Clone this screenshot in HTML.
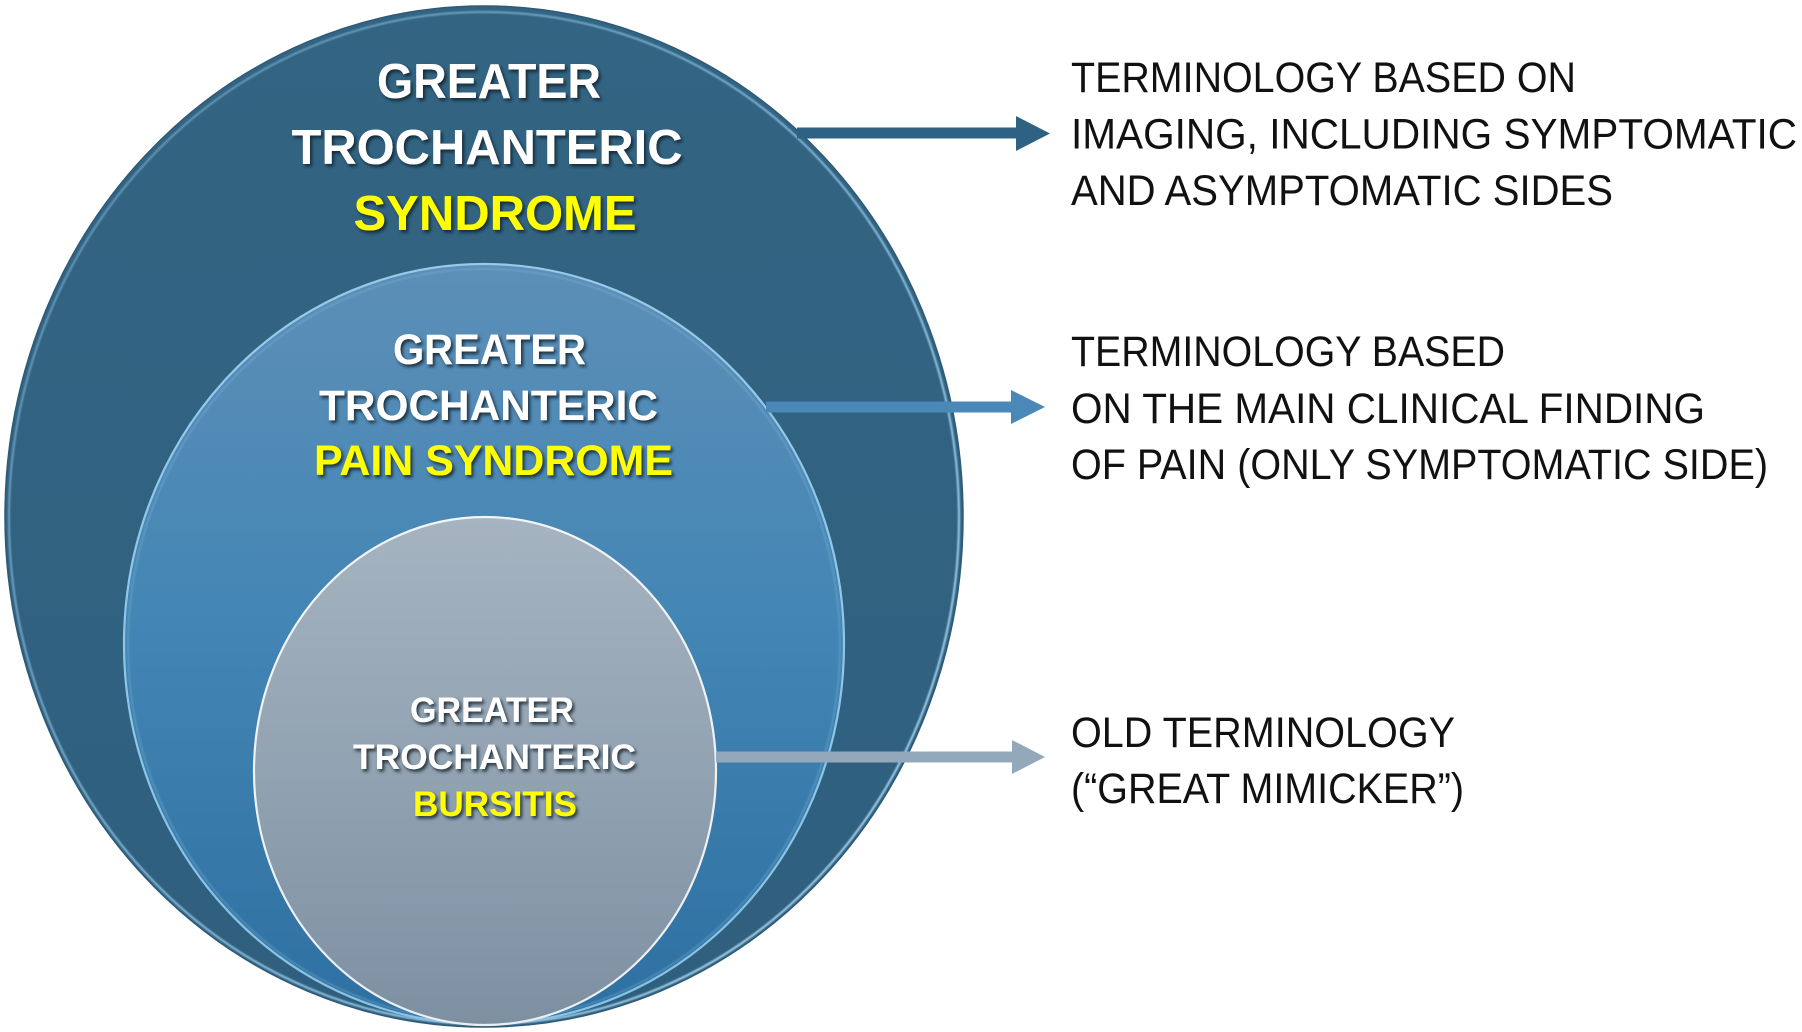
<!DOCTYPE html>
<html>
<head>
<meta charset="utf-8">
<style>
html,body{margin:0;padding:0;background:#fff;}
svg{display:block;}
.b{font-family:"Liberation Sans",Arial,sans-serif;font-weight:bold;}
.r{font-family:"Liberation Sans",Arial,sans-serif;font-weight:normal;fill:#111;}
</style>
</head>
<body>
<svg width="1802" height="1032" viewBox="0 0 1802 1032" xmlns="http://www.w3.org/2000/svg">
<defs>
  <linearGradient id="gOuter" x1="0" y1="0" x2="0" y2="1">
    <stop offset="0" stop-color="#336583"/>
    <stop offset="1" stop-color="#2f5f7e"/>
  </linearGradient>
  <linearGradient id="gMid" x1="0" y1="0" x2="0" y2="1">
    <stop offset="0" stop-color="#5d8fb7"/>
    <stop offset="0.45" stop-color="#4486b5"/>
    <stop offset="1" stop-color="#2d70a1"/>
  </linearGradient>
  <linearGradient id="gIn" x1="0" y1="0" x2="0" y2="1">
    <stop offset="0" stop-color="#a6b4c1"/>
    <stop offset="1" stop-color="#7d90a2"/>
  </linearGradient>
  <linearGradient id="gRimO" x1="0" y1="0" x2="1" y2="1">
    <stop offset="0" stop-color="#7fb6dc" stop-opacity="0.45"/>
    <stop offset="0.5" stop-color="#9fd4f4" stop-opacity="0.7"/>
    <stop offset="1" stop-color="#bfe6ff" stop-opacity="0.9"/>
  </linearGradient>
  <filter id="sh" x="-10%" y="-30%" width="120%" height="160%">
    <feDropShadow dx="2" dy="2.5" stdDeviation="1.6" flood-color="#0d1c2a" flood-opacity="0.85"/>
  </filter>
  <filter id="soft" x="-5%" y="-5%" width="110%" height="110%">
    <feGaussianBlur stdDeviation="0.8"/>
  </filter>
</defs>

<!-- Outer ellipse -->
<ellipse cx="484" cy="516.5" rx="479" ry="510.5" fill="url(#gOuter)"/>
<ellipse cx="484" cy="516.5" rx="479" ry="510.5" fill="none" stroke="#2d5a78" stroke-width="1.5"/>
<ellipse cx="484" cy="518" rx="475" ry="506" fill="none" stroke="url(#gRimO)" stroke-width="2.2" filter="url(#soft)"/>

<!-- Middle ellipse -->
<ellipse cx="484" cy="644" rx="361" ry="381" fill="url(#gMid)"/>
<ellipse cx="484" cy="644" rx="360" ry="380" fill="none" stroke="#a9defa" stroke-opacity="0.75" stroke-width="2.2"/>
<ellipse cx="484" cy="645" rx="356" ry="376" fill="none" stroke="#7fb5da" stroke-opacity="0.35" stroke-width="2" filter="url(#soft)"/>

<!-- Inner ellipse -->
<ellipse cx="485" cy="771" rx="232" ry="255" fill="url(#gIn)"/>
<ellipse cx="485" cy="771" rx="231" ry="254" fill="none" stroke="#ffffff" stroke-opacity="0.85" stroke-width="2.2"/>

<!-- Arrows -->
<rect x="797" y="127.5" width="220" height="11" fill="#2f6282"/>
<polygon points="1016,116 1050,133.5 1016,151" fill="#2f6282"/>

<rect x="766" y="401.5" width="246" height="11" fill="#4a88b8"/>
<polygon points="1011,390 1045,407 1011,424" fill="#4a88b8"/>

<rect x="716" y="751.5" width="297" height="11" fill="#93a8ba"/>
<polygon points="1012,740 1045,757 1012,774" fill="#93a8ba"/>

<!-- Outer text -->
<g class="b" filter="url(#sh)" text-anchor="middle">
  <text x="489" y="98" font-size="49" fill="#ffffff" textLength="224" lengthAdjust="spacingAndGlyphs">GREATER</text>
  <text x="487" y="164" font-size="49" fill="#ffffff" textLength="391" lengthAdjust="spacingAndGlyphs">TROCHANTERIC</text>
  <text x="495" y="230" font-size="49" fill="#ffff00" textLength="283" lengthAdjust="spacingAndGlyphs">SYNDROME</text>
</g>

<!-- Middle text -->
<g class="b" filter="url(#sh)" text-anchor="middle">
  <text x="489.5" y="364" font-size="43" fill="#ffffff" textLength="193" lengthAdjust="spacingAndGlyphs">GREATER</text>
  <text x="488.5" y="420" font-size="43" fill="#ffffff" textLength="339" lengthAdjust="spacingAndGlyphs">TROCHANTERIC</text>
  <text x="493.5" y="475" font-size="43" fill="#ffff00" textLength="359" lengthAdjust="spacingAndGlyphs">PAIN SYNDROME</text>
</g>

<!-- Inner text -->
<g class="b" filter="url(#sh)" text-anchor="middle">
  <text x="492" y="722" font-size="35.5" fill="#ffffff" textLength="164" lengthAdjust="spacingAndGlyphs">GREATER</text>
  <text x="494.5" y="769" font-size="35.5" fill="#ffffff" textLength="283" lengthAdjust="spacingAndGlyphs">TROCHANTERIC</text>
  <text x="495" y="816" font-size="35.5" fill="#ffff00" textLength="164" lengthAdjust="spacingAndGlyphs">BURSITIS</text>
</g>

<!-- Right text block 1 -->
<g class="r" font-size="43">
  <text x="1071" y="92" textLength="505" lengthAdjust="spacingAndGlyphs">TERMINOLOGY BASED ON</text>
  <text x="1071" y="148.5" textLength="726" lengthAdjust="spacingAndGlyphs">IMAGING, INCLUDING SYMPTOMATIC</text>
  <text x="1071" y="205" textLength="542" lengthAdjust="spacingAndGlyphs">AND ASYMPTOMATIC SIDES</text>
</g>

<!-- Right text block 2 -->
<g class="r" font-size="43">
  <text x="1071" y="366" textLength="434" lengthAdjust="spacingAndGlyphs">TERMINOLOGY BASED</text>
  <text x="1071" y="423" textLength="634" lengthAdjust="spacingAndGlyphs">ON THE MAIN CLINICAL FINDING</text>
  <text x="1071" y="479" textLength="697" lengthAdjust="spacingAndGlyphs">OF PAIN (ONLY SYMPTOMATIC SIDE)</text>
</g>

<!-- Right text block 3 -->
<g class="r" font-size="43">
  <text x="1071" y="747" textLength="384" lengthAdjust="spacingAndGlyphs">OLD TERMINOLOGY</text>
  <text x="1071" y="803" textLength="393" lengthAdjust="spacingAndGlyphs">(“GREAT MIMICKER”)</text>
</g>
</svg>
</body>
</html>
